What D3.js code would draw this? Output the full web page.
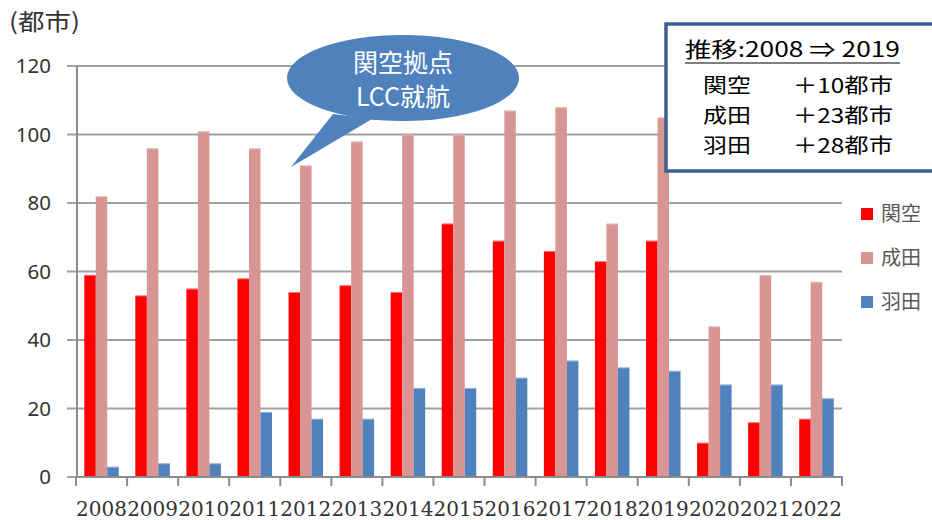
<!DOCTYPE html>
<html><head><meta charset="utf-8">
<script src="https://cdn.jsdelivr.net/npm/d3@7"></script>
<style>body{margin:0;background:#fff;} svg{display:block;}</style>
</head><body>
<script>
const years = ["2008","2009","2010","2011","2012","2013","2014","2015","2016","2017","2018","2019","2020","2021","2022"];
const seriesNames = ["関空","成田","羽田"];
const kansai = [59,53,55,58,54,56,54,74,69,66,63,69,10,16,17];
const narita = [82,96,101,96,91,98,100,100,107,108,74,105,44,59,57];
const haneda = [3,4,4,19,17,17,26,26,29,34,32,31,27,27,23];
const yTicks = [0,20,40,60,80,100,120];
const colors = ["#ff0000","#d99594","#4f81bd"];
const boxTitle = "推移:2008 ⇒ 2019";
const boxRows = [["関空","＋10都市"],["成田","＋23都市"],["羽田","＋28都市"]];
const calloutLines = ["関空拠点","LCC就航"];

const W=932,H=520;
const svg=d3.select("body").append("svg").attr("width",W).attr("height",H);
const x=d3.scaleBand().domain(years).range([76,842]);
const xs=d3.scaleBand().domain(seriesNames).range([0,x.bandwidth()]).paddingInner(0).paddingOuter(0.72);
const y=d3.scaleLinear().domain([0,120]).range([477,66]);
const cjk="'Noto Sans CJK JP', sans-serif";

// gridlines
svg.append("g").selectAll("line").data(yTicks).join("line")
 .attr("x1",67).attr("x2",842).attr("y1",d=>y(d)).attr("y2",d=>y(d))
 .attr("stroke","#a0a0a0").attr("stroke-width",2);
// y axis line
svg.append("line").attr("x1",77).attr("x2",77).attr("y1",y(120)).attr("y2",y(0)+1).attr("stroke","#8c8c8c").attr("stroke-width",2);
// y tick labels
svg.append("g").selectAll("text").data(yTicks).join("text")
 .attr("x",51).attr("y",d=>y(d)).attr("dy","0.36em").attr("text-anchor","end")
 .attr("font-family","'Noto Sans', sans-serif").attr("font-size",20.5).attr("fill","#333").text(d=>d);

// bars
const data=years.map((yr,i)=>({yr,vals:[kansai[i],narita[i],haneda[i]]}));
const g=svg.append("g").selectAll("g").data(data).join("g").attr("transform",d=>`translate(${x(d.yr)},0)`);
g.selectAll("rect").data(d=>d.vals.map((v,j)=>({v,s:seriesNames[j],c:colors[j]}))).join("rect")
 .attr("x",d=>xs(d.s)).attr("width",xs.bandwidth()).attr("y",d=>y(d.v)).attr("height",d=>y(0)-y(d.v)).attr("fill",d=>d.c);
g.selectAll("line.top").data(d=>d.vals.map((v,j)=>({v,s:seriesNames[j]}))).join("line").attr("class","top")
 .attr("x1",d=>xs(d.s)).attr("x2",d=>xs(d.s)+xs.bandwidth()).attr("y1",d=>y(d.v)+0.5).attr("y2",d=>y(d.v)+0.5)
 .attr("stroke","#fff").attr("stroke-opacity",0.4).attr("stroke-width",1);

// x axis
svg.append("line").attr("x1",76).attr("x2",843).attr("y1",y(0)).attr("y2",y(0)).attr("stroke","#8c8c8c").attr("stroke-width",2);
const bounds=years.map(d=>x(d)).concat([x.range()[1]]);
svg.append("g").selectAll("line").data(bounds).join("line")
 .attr("x1",d=>d).attr("x2",d=>d).attr("y1",y(0)).attr("y2",y(0)+9).attr("stroke","#8c8c8c").attr("stroke-width",2);
svg.append("g").selectAll("text").data(years).join("text")
 .attr("x",d=>x(d)+x.bandwidth()/2).attr("y",516).attr("text-anchor","middle")
 .attr("font-family","'DejaVu Serif', serif").attr("font-size",20).attr("fill","#333").text(d=>d);

// axis title
svg.append("text").attr("x",9).attr("y",30).attr("font-family",cjk).attr("font-size",23).attr("fill","#333")
 .attr("textLength",71).attr("lengthAdjust","spacingAndGlyphs").text("(都市)");

// legend
const lg=svg.append("g").selectAll("g").data(seriesNames).join("g").attr("transform",(d,i)=>`translate(861,${214+i*44})`);
lg.append("rect").attr("x",0).attr("y",-6).attr("width",12).attr("height",12).attr("fill",(d,i)=>colors[i]);
lg.append("text").attr("x",20).attr("y",0).attr("dy","0.36em").attr("font-family",cjk).attr("font-size",20).attr("fill","#595959").text(d=>d);

// callout
const co=svg.append("g");
co.append("path").attr("d","M333,114 L291,167 L372,119 Z").attr("fill","#4f81bd");
co.append("ellipse").attr("cx",403).attr("cy",78).attr("rx",116).attr("ry",43).attr("fill","#4f81bd");
co.selectAll("text").data(calloutLines).join("text").attr("x",403).attr("y",(d,i)=>72+i*34).attr("text-anchor","middle")
 .attr("font-family",cjk).attr("font-size",25).attr("fill","#fff").text(d=>d);

// info box
svg.append("rect").attr("x",666).attr("y",24).attr("width",268).attr("height",147).attr("fill","#fff").attr("stroke","#3b5f8f").attr("stroke-width",3.5);
svg.append("text").attr("x",685).attr("y",57).attr("font-family",cjk).attr("font-size",21).attr("fill","#000")
 .attr("textLength",215).attr("lengthAdjust","spacingAndGlyphs").text(boxTitle);
svg.append("line").attr("x1",685).attr("x2",900).attr("y1",63).attr("y2",63).attr("stroke","#000").attr("stroke-width",1.2);
const rows=svg.append("g").selectAll("g").data(boxRows).join("g").attr("transform",(d,i)=>`translate(0,${93+i*30})`);
rows.append("text").attr("x",703).attr("y",0).attr("font-family",cjk).attr("font-size",20.5).attr("fill","#000")
 .attr("textLength",48).attr("lengthAdjust","spacingAndGlyphs").text(d=>d[0]);
rows.append("text").attr("x",793).attr("y",0).attr("font-family",cjk).attr("font-size",20.5).attr("fill","#000")
 .attr("textLength",100).attr("lengthAdjust","spacingAndGlyphs").text(d=>d[1]);
</script>
</body></html>
